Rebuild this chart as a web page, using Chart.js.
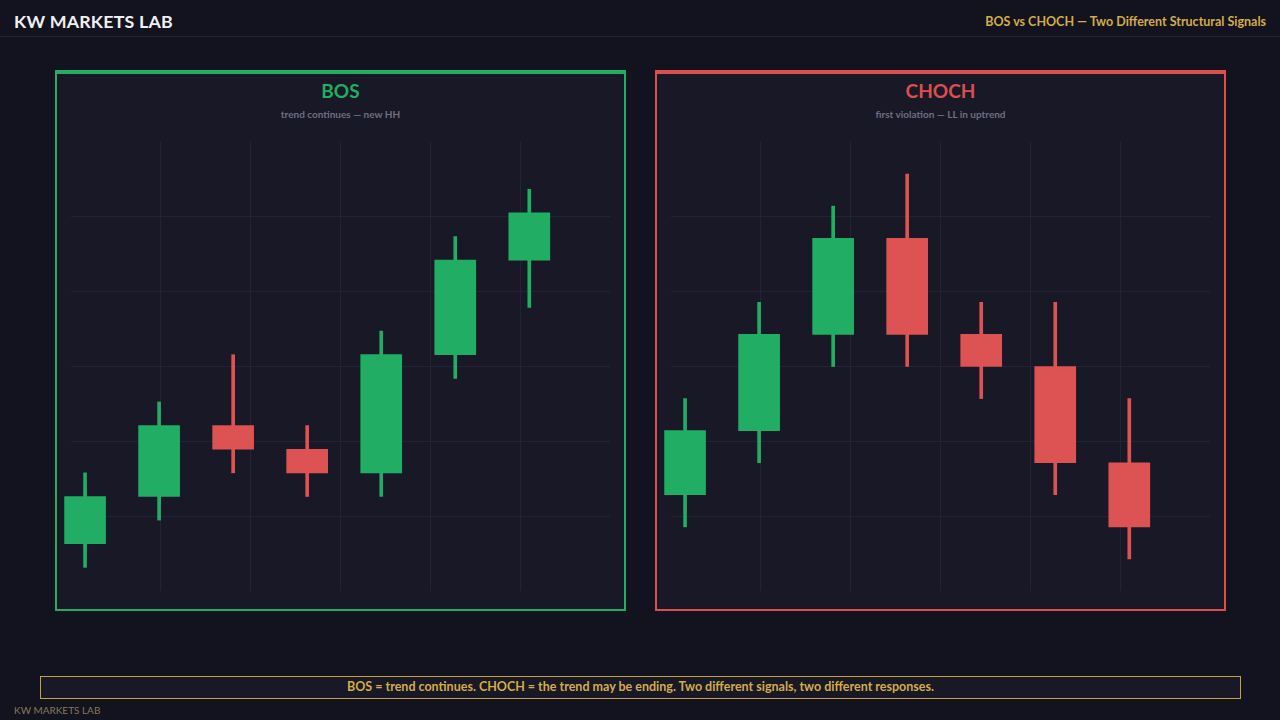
<!DOCTYPE html>
<html>
<head>
<meta charset="utf-8"/>
<style>
  html,body{margin:0;padding:0;}
  body{width:1280px;height:720px;background:#13131f;position:relative;overflow:hidden;font-family:Lato,"Open Sans",sans-serif;}
  .brand{position:absolute;left:14px;top:10px;font-size:17.8px;font-weight:700;color:#f0f0f2;letter-spacing:0.2px;}
  .headline{position:absolute;right:14px;top:14px;font-size:12.5px;font-weight:700;color:#d4ad45;}
  .rule{position:absolute;left:0;top:36px;width:1280px;height:1px;background:#242436;}
  .panel{position:absolute;top:70px;width:567px;height:535px;background:#181826;border:2px solid;border-top-width:4px;}
  .panel h2{margin:0;position:absolute;left:0;right:0;top:5px;text-align:center;font-size:19px;font-weight:700;}
  .panel p{margin:0;position:absolute;left:0;right:0;top:34px;text-align:center;font-size:10px;font-weight:700;color:#6f6f82;}
  .chartBox{position:absolute;left:0;top:68px;width:567px;height:449px;}
  .banner{position:absolute;left:40px;top:676px;width:1199px;height:21px;border:1px solid #c9a13c;background:#181826;
          color:#d4ad45;font-size:12.5px;font-weight:700;text-align:center;line-height:20px;}
  .foot{position:absolute;left:14px;top:704px;font-size:10px;color:#85795a;}
</style>
</head>
<body>
  <div class="brand">KW MARKETS LAB</div>
  <div class="headline">BOS vs CHOCH — Two Different Structural Signals</div>
  <div class="rule"></div>

  <div class="panel" style="left:55px;border-color:#22ad63;">
    <h2 style="color:#22ad63;">BOS</h2>
    <p>trend continues — new HH</p>
    <div class="chartBox"><canvas id="bos"></canvas></div>
  </div>

  <div class="panel" style="left:655px;border-color:#dd4f4f;">
    <h2 style="color:#dd4f4f;">CHOCH</h2>
    <p>first violation — LL in uptrend</p>
    <div class="chartBox"><canvas id="choch"></canvas></div>
  </div>

  <div class="banner">BOS = trend continues. CHOCH = the trend may be ending. Two different signals, two different responses.</div>
  <div class="foot">KW MARKETS LAB</div>

  <script src="https://cdn.jsdelivr.net/npm/chart.js@4.4.0/dist/chart.umd.min.js"></script>
  <script>
    // candle slots, left to right
    const candles = [0, 1, 2, 3, 4, 5, 6];

    // BOS: higher highs keep coming
    const bosOpen  = [1, 3, 6, 5, 4,  9, 13];
    const bosClose = [3, 6, 5, 4, 9, 13, 15];
    const bosHigh  = [4, 7, 9, 6, 10, 14, 16];
    const bosLow   = [0, 2, 4, 3, 3,  8, 11];

    // CHOCH: uptrend, then the first lower low
    const chochOpen  = [2, 4, 7, 10, 7, 6, 3];
    const chochClose = [4, 7, 10, 7, 6, 3, 1];
    const chochHigh  = [5, 8, 11, 12, 8, 8, 5];
    const chochLow   = [1, 3, 6,  6, 5, 2, 0];

    const UP   = "#22ad65";
    const DOWN = "#dd5252";
    const GRID = "#232335";

    // 6 equal divisions, only the inner lines are drawn
    function evenTicks(axis) {
      const step = (axis.max - axis.min) / 6;
      axis.ticks = [];
      for (let k = 1; k < 6; k++) axis.ticks.push({ value: axis.min + k * step });
    }

    function candleChart(id, open, close, high, low, yMin, yMax) {
      const colors = open.map((o, i) => close[i] >= o ? UP : DOWN);
      const wicks  = candles.map((x, i) => ({ x, y: [low[i], high[i]] }));
      const bodies = candles.map((x, i) => ({ x, y: [open[i], close[i]] }));

      new Chart(document.getElementById(id), {
        type: "bar",
        data: {
          datasets: [
            { data: wicks,  backgroundColor: colors, barThickness: 3,  grouped: false, borderWidth: 0, clip: false, order: 2 },
            { data: bodies, backgroundColor: colors, barThickness: 41, grouped: false, borderWidth: 0, clip: false, order: 1 },
          ]
        },
        options: {
          responsive: true, maintainAspectRatio: false, animation: false,
          layout: { padding: { left: 14, right: 14, top: 0, bottom: 0 } },
          plugins: { legend: { display: false }, tooltip: { enabled: false } },
          scales: {
            x: { type: "linear", min: -0.19, max: 7.09, offset: false,
                 afterBuildTicks: evenTicks,
                 ticks: { display: false },
                 grid: { color: GRID, lineWidth: 1, drawTicks: false, offset: false },
                 border: { display: false } },
            y: { type: "linear", min: yMin, max: yMax,
                 afterBuildTicks: evenTicks,
                 ticks: { display: false },
                 grid: { color: GRID, lineWidth: 1, drawTicks: false },
                 border: { display: false } }
          }
        }
      });
    }

    candleChart("bos",   bosOpen,   bosClose,   bosHigh,   bosLow,   -1, 18);
    candleChart("choch", chochOpen, chochClose, chochHigh, chochLow, -1, 13);
  </script>
</body>
</html>
